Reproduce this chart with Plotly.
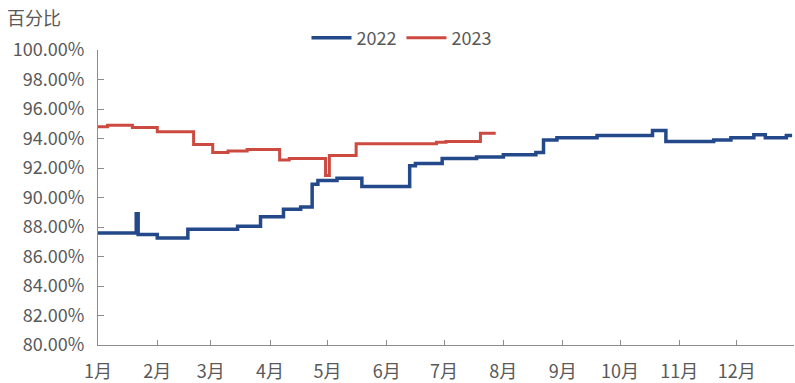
import plotly.graph_objects as go

months = ["1月", "2月", "3月", "4月", "5月", "6月", "7月", "8月", "9月", "10月", "11月", "12月"]
month_starts = ["2022-%02d-01" % m for m in range(1, 13)] + ["2023-01-01"]

dates_2022 = ["2022-01-01", "2022-01-21", "2022-01-22", "2022-02-01", "2022-02-17", "2022-03-15",
              "2022-03-27", "2022-04-08", "2022-04-17", "2022-04-23", "2022-04-26", "2022-05-06",
              "2022-05-19", "2022-06-13", "2022-06-16", "2022-06-30", "2022-07-18", "2022-08-01",
              "2022-08-18", "2022-08-22", "2022-08-29", "2022-09-19", "2022-10-18", "2022-10-25",
              "2022-11-19", "2022-11-28", "2022-12-10", "2022-12-16", "2022-12-27", "2022-12-30"]
values_2022 = [87.6, 88.9, 87.5, 87.25, 87.85, 88.05,
               88.7, 89.2, 89.35, 90.9, 91.15, 91.3,
               90.75, 92.15, 92.3, 92.65, 92.75, 92.9,
               93.05, 93.9, 94.05, 94.2, 94.55, 93.8,
               93.9, 94.05, 94.25, 94.05, 94.2, 94.2]

dates_2023 = ["2022-01-01", "2022-01-06", "2022-01-19", "2022-02-01", "2022-02-20", "2022-03-02",
              "2022-03-10", "2022-03-20", "2022-04-06", "2022-04-11", "2022-04-30", "2022-05-02",
              "2022-05-16", "2022-06-27", "2022-07-02", "2022-07-20", "2022-07-28"]
values_2023 = [94.8, 94.9, 94.75, 94.45, 93.6, 93.05,
               93.15, 93.25, 92.55, 92.65, 91.5, 92.85,
               93.65, 93.75, 93.8, 94.35, 94.35]

y_ticks = [80, 82, 84, 86, 88, 90, 92, 94, 96, 98, 100]

fig = go.Figure()
fig.add_trace(go.Scatter(x=dates_2022, y=values_2022, name="2022", mode="lines",
                         line=dict(color="#24498a", width=3.5, shape="hv")))
fig.add_trace(go.Scatter(x=dates_2023, y=values_2023, name="2023", mode="lines",
                         line=dict(color="#cc4a40", width=3, shape="hv")))

font_family = "Noto Sans CJK SC, Noto Sans, sans-serif"
fig.update_layout(
    width=795, height=383,
    margin=dict(l=98, r=1, t=50, b=38, autoexpand=False),
    paper_bgcolor="white", plot_bgcolor="white",
    font=dict(family=font_family, size=18, color="#595959"),
    showlegend=True,
    legend=dict(orientation="h", xref="container", x=0.505, xanchor="center",
                yref="container", y=1 - 38 / 383, yanchor="middle",
                font=dict(size=18, color="#595959"), itemwidth=40),
    xaxis=dict(type="date", range=["2022-01-01", "2022-12-31"],
               tickmode="array", tickvals=month_starts, ticktext=months + [""],
               showgrid=False, showline=True, linecolor="#8c8c8c", linewidth=1,
               ticks="inside", ticklen=5, tickcolor="#8c8c8c",
               ticklabelstandoff=10,
               tickfont=dict(size=18, color="#595959")),
    yaxis=dict(range=[80, 100], tickmode="array", tickvals=y_ticks,
               ticktext=["%.2f%%" % v for v in y_ticks],
               showgrid=False, showline=True, linecolor="#8c8c8c", linewidth=1,
               ticks="inside", ticklen=6, tickcolor="#8c8c8c",
               ticklabelstandoff=9,
               tickfont=dict(size=18, color="#595959"), zeroline=False),
    annotations=[dict(text="百分比", xref="paper", yref="paper",
                      x=(5 - 98) / 696, y=(345 - 17) / 295, xanchor="left", yanchor="middle",
                      showarrow=False, font=dict(size=18, color="#595959"))],
)
fig.write_html("out.html")
